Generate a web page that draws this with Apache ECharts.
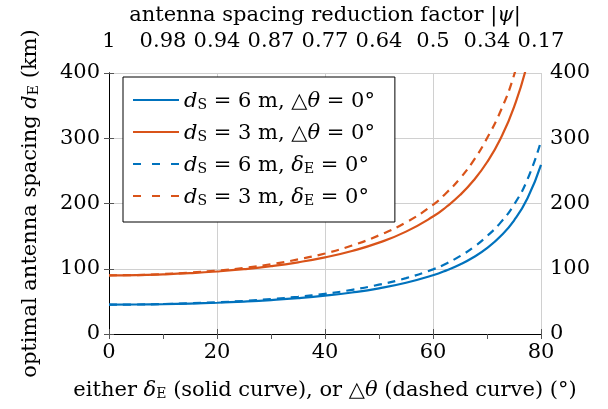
<!DOCTYPE html>
<html>
<head>
<meta charset="utf-8">
<script src="https://cdn.jsdelivr.net/npm/echarts@6/dist/echarts.min.js"></script>
<style>
  html, body { margin: 0; padding: 0; background: #fff; }
  #container { width: 608px; height: 409px; }
</style>
</head>
<body>
<div id="container"></div>
<script>
var dom = document.getElementById("container");
var myChart = echarts.init(dom);

// angle (deg)
var angles = [0, 5, 10, 15, 20, 25, 30, 35, 40, 45, 50, 55, 60, 62.5, 65, 67.5, 70, 72.5, 75, 77.5, 80];

var solid6 = [45, 45.2, 45.7, 46.6, 47.9, 49.7, 52.0, 54.9, 58.7, 63.6, 70.0, 78.5, 90.0, 97.5, 106.5, 117.6, 131.6, 149.7, 173.9, 207.9, 259.2];
var solid3 = [90, 90.3, 91.4, 93.2, 95.8, 99.3, 103.9, 109.9, 117.5, 127.3, 140.0, 156.9, 180, 195, 212.9, 235.2, 263.2, 299.3, 347.8, 415.8, 518.3];
var dashed6 = [45, 45.2, 45.9, 47.1, 48.6, 50.7, 53.6, 57.1, 61.6, 67.7, 75.6, 85.6, 99.0, 108.2, 119.3, 132.9, 150.0, 170.7, 198.2, 237.0, 295.5];
var dashed3 = [90, 90.3, 91.9, 94.1, 97.2, 101.3, 107.0, 114.3, 123.4, 135.6, 151.2, 171.0, 198, 216.5, 238.4, 265.8, 300.0, 341.4, 396.5, 474, 591];

// top axis: |psi| at each 10 deg
var topTicks = [0, 10, 20, 30, 40, 50, 60, 70, 80];
var topLabels = ['1', '0.98', '0.94', '0.87', '0.77', '0.64', '0.5', '0.34', '0.17'];

var names = ['s6', 's3', 'd6', 'd3'];
var legendText = [
  '{i|d}{s|S}{t| = 6 m, △}{i|θ}{t| = 0°}',
  '{i|d}{s|S}{t| = 3 m, △}{i|θ}{t| = 0°}',
  '{i|d}{s|S}{t| = 6 m, }{i|δ}{s|E}{t| = 0°}',
  '{i|d}{s|S}{t| = 3 m, }{i|δ}{s|E}{t| = 0°}'
];

var blue = '#0072BD';
var orange = '#D95319';
var font = 'DejaVu Serif';
var fs = 21;

var richText = {
  t: { fontFamily: font, fontSize: fs, color: '#000', lineHeight: 24, verticalAlign: 'bottom' },
  i: { fontFamily: font, fontSize: fs, fontStyle: 'italic', color: '#000', lineHeight: 24, verticalAlign: 'bottom' },
  s: { fontFamily: font, fontSize: 14, color: '#000', lineHeight: 18, verticalAlign: 'bottom' }
};

function pairs(ys) {
  return angles.map((a, k) => [a, ys[k]]);
}

var option = {
  animation: false,
  backgroundColor: '#fff',
  grid: { left: 109, right: 67, top: 70, bottom: 75 },
  legend: {
    orient: 'vertical',
    left: 123,
    top: 77,
    data: [
      { name: 's6' },
      { name: 's3' },
      { name: 'd6', lineStyle: { type: [8, 11] } },
      { name: 'd3', lineStyle: { type: [8, 11] } }
    ],
    padding: [14, 20, 14, 9],
    itemGap: 11,
    itemWidth: 46,
    itemHeight: 20,
    backgroundColor: '#fff',
    borderColor: '#000',
    borderWidth: 1,
    borderRadius: 0,
    itemStyle: { opacity: 0 },
    formatter: function (name) {
      return legendText[names.indexOf(name)];
    },
    textStyle: { rich: richText }
  },
  xAxis: [{
    type: 'value',
    min: 0,
    max: 80,
    interval: 20,
    position: 'bottom',
    name: '{t|either }{i|δ}{s|E}{t| (solid curve), or △}{i|θ}{t| (dashed curve) (°)}',
    nameLocation: 'middle',
    nameGap: 43,
    nameTextStyle: { rich: richText },
    axisLine: { lineStyle: { color: '#000', width: 1 } },
    axisTick: { inside: true, length: 5, lineStyle: { color: '#555' } },
    axisLabel: { fontFamily: font, fontSize: fs, color: '#000', margin: 8 },
    splitLine: { show: true, lineStyle: { color: '#d0d0d0', width: 1 } }
  }, {
    type: 'value',
    min: 0,
    max: 80,
    interval: 10,
    position: 'top',
    name: '{t|antenna spacing reduction factor |}{i|ψ}{t||}',
    nameLocation: 'middle',
    nameGap: 47,
    nameTextStyle: { rich: richText },
    axisLine: { lineStyle: { color: '#000', width: 1 } },
    axisTick: { inside: true, length: 5, lineStyle: { color: '#555' } },
    axisLabel: {
      fontFamily: font, fontSize: fs, color: '#000', margin: 21,
      formatter: function (v) { return topLabels[topTicks.indexOf(v)]; }
    },
    splitLine: { show: false }
  }],
  yAxis: [{
    type: 'value',
    min: 0,
    max: 400,
    interval: 100,
    position: 'left',
    name: '{t|optimal antenna spacing }{i|d}{s|E}{t| (km)}',
    nameLocation: 'middle',
    nameGap: 68,
    nameTextStyle: { rich: richText },
    axisLine: { show: true, lineStyle: { color: '#000', width: 1 } },
    axisTick: { show: true, inside: true, length: 5, lineStyle: { color: '#555' } },
    axisLabel: { fontFamily: font, fontSize: fs, color: '#000', margin: 9 },
    splitLine: { show: true, lineStyle: { color: '#d0d0d0', width: 1 } }
  }, {
    type: 'value',
    min: 0,
    max: 400,
    interval: 100,
    position: 'right',
    axisLine: { show: true, lineStyle: { color: '#000', width: 1 } },
    axisTick: { show: true, inside: true, length: 5, lineStyle: { color: '#555' } },
    axisLabel: { fontFamily: font, fontSize: fs, color: '#000', margin: 9 },
    splitLine: { show: false }
  }],
  series: [
    { name: 's6', type: 'line', smooth: true, symbol: 'none', clip: true, data: pairs(solid6),
      lineStyle: { color: blue, width: 2.2 }, itemStyle: { color: blue } },
    { name: 's3', type: 'line', smooth: true, symbol: 'none', clip: true, data: pairs(solid3),
      lineStyle: { color: orange, width: 2.2 }, itemStyle: { color: orange } },
    { name: 'd6', type: 'line', smooth: true, symbol: 'none', clip: true, data: pairs(dashed6),
      lineStyle: { color: blue, width: 2.2, type: [8, 6] }, itemStyle: { color: blue } },
    { name: 'd3', type: 'line', smooth: true, symbol: 'none', clip: true, data: pairs(dashed3),
      lineStyle: { color: orange, width: 2.2, type: [8, 6] }, itemStyle: { color: orange } }
  ]
};

if (option && typeof option === 'object') {
  myChart.setOption(option);
}
</script>
</body>
</html>
